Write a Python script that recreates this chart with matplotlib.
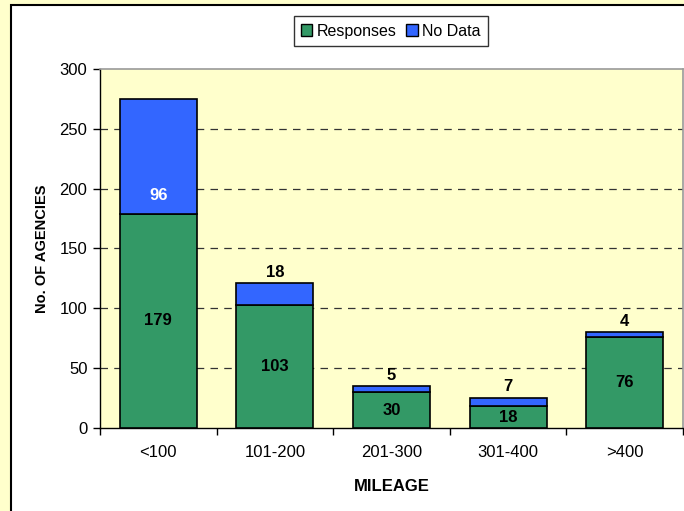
"""Stacked bar chart: agencies by mileage band (responses vs no data)."""
import numpy as np
import matplotlib
matplotlib.use("Agg")
import matplotlib.pyplot as plt
from matplotlib.patches import Rectangle

plt.rcParams["font.family"] = ["Liberation Sans", "DejaVu Sans"]

CATEGORIES = ["<100", "101-200", "201-300", "301-400", ">400"]
RESPONSES = [179, 103, 30, 18, 76]
NO_DATA = [96, 18, 5, 7, 4]

C_RESP = "#339966"
C_NODATA = "#3366FF"
C_PLOT_BG = "#FFFFCC"
C_OUTER = "#FFFFCC"

fig = plt.figure(figsize=(6.84, 5.11), dpi=100, facecolor=C_OUTER)

# white chart area with black frame (runs off the right/bottom edges)
fig.patches.append(Rectangle((11 / 684, -0.05), 1.1, 1.05 - 5 / 511,
                             transform=fig.transFigure, facecolor="white",
                             edgecolor="black", linewidth=1.5, zorder=-10))

ax = fig.add_axes([100 / 684, 83 / 511, 583 / 684, 359 / 511])
ax.set_facecolor(C_PLOT_BG)

x = np.arange(len(CATEGORIES))
width = 0.66
resp = np.array(RESPONSES)
nod = np.array(NO_DATA)

ax.bar(x, resp, width, color=C_RESP, edgecolor="black", linewidth=1.2,
       label="Responses", zorder=3)
ax.bar(x, nod, width, bottom=resp, color=C_NODATA, edgecolor="black",
       linewidth=1.2, label="No Data", zorder=3)

# value labels
for i in range(len(x)):
    ax.text(x[i], resp[i] / 2, str(resp[i]), ha="center", va="center",
            fontsize=12, fontweight="bold", color="black", zorder=4)
    if nod[i] > 40:
        ax.annotate(str(nod[i]), (x[i], resp[i]), xytext=(0, 13),
                    textcoords="offset points", ha="center", va="center",
                    fontsize=12, fontweight="bold", color="white", zorder=4)
    else:
        ax.annotate(str(nod[i]), (x[i], resp[i] + nod[i]), xytext=(0, 8),
                    textcoords="offset points", ha="center", va="center",
                    fontsize=12, fontweight="bold", color="black", zorder=4)

ax.set_xlim(-0.5, len(x) - 0.5)
ax.set_ylim(0, 300)
ax.set_yticks(np.arange(0, 301, 50))
ax.set_xticks(np.arange(len(x) + 1) - 0.5, minor=False)
ax.set_xticklabels([])
ax.set_xticks(x, minor=True)
ax.set_xticklabels(CATEGORIES, minor=True)
ax.tick_params(axis="x", which="major", direction="out", length=5, width=1)
ax.tick_params(axis="x", which="minor", length=0, pad=12, labelsize=12)
ax.tick_params(axis="y", direction="out", length=5, width=1, labelsize=12, pad=4)

for yv in range(50, 300, 50):
    ax.axhline(yv, color="#333333", linestyle=(0, (6, 5)), linewidth=0.9,
               zorder=1)

for side in ["top", "right"]:
    ax.spines[side].set_color("#999999")
    ax.spines[side].set_linewidth(1.2)
ax.spines["left"].set_linewidth(1.0)
ax.spines["bottom"].set_linewidth(1.0)

ax.set_xlabel("MILEAGE", fontsize=12, fontweight="bold", labelpad=14)
ax.set_ylabel("No. OF AGENCIES", fontsize=10.5, fontweight="bold", labelpad=8)

leg = fig.legend(loc="center", bbox_to_anchor=(391 / 684, 1 - 31 / 511),
                 ncol=2, fontsize=11.5, frameon=True, fancybox=False,
                 handlelength=0.7, handleheight=0.7, handletextpad=0.3,
                 columnspacing=0.6, borderpad=0.45)
leg.get_frame().set_edgecolor("black")
leg.get_frame().set_linewidth(1.0)
for h in leg.legend_handles:
    h.set_linewidth(1.0)

fig.savefig("out.png", dpi=100, facecolor=fig.get_facecolor())
